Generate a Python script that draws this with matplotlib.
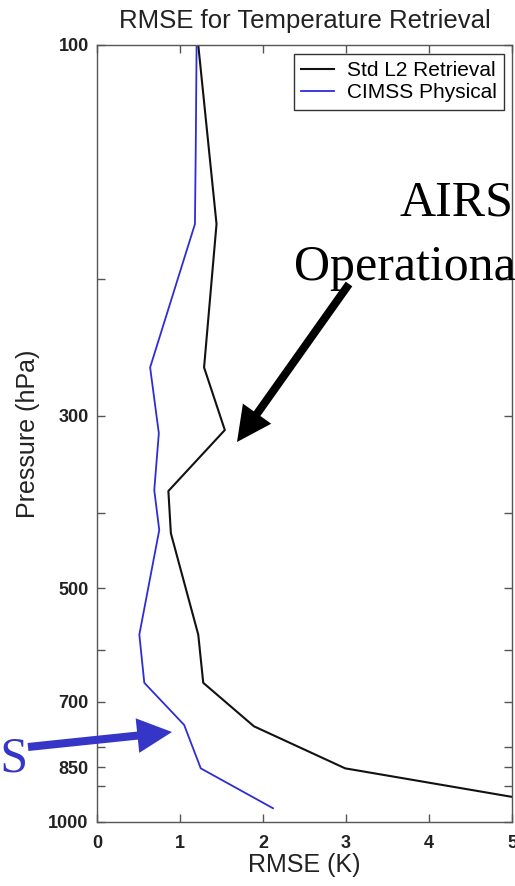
import matplotlib as mpl
import matplotlib.pyplot as plt
from matplotlib.ticker import NullFormatter

mpl.rcParams['font.family'] = ['Liberation Sans', 'DejaVu Sans']

# RMSE profiles (K) vs pressure (hPa)
p_std = [100, 170, 260, 313, 375, 425, 574, 662, 753, 853, 960]
rmse_std = [1.22, 1.44, 1.29, 1.54, 0.86, 0.89, 1.22, 1.28, 1.89, 2.99, 5.8]

p_cimss = [100, 135, 170, 260, 316, 374, 421, 574, 662, 750, 853, 960]
rmse_cimss = [1.20, 1.19, 1.18, 0.64, 0.745, 0.69, 0.75, 0.51, 0.57, 1.05, 1.25, 2.12]

y_major = [100, 300, 500, 700, 850, 1000]
y_minor = [200, 400, 600, 800, 900]
x_ticks = [0, 1, 2, 3, 4, 5]

W, H = 515, 886
fig = plt.figure(figsize=(W / 100, H / 100), dpi=100)
ax = fig.add_axes([97 / W, 1 - 822 / H, (512 - 97) / W, (822 - 45) / H])

blue = '#2d2dd6'
ax.plot(rmse_std, p_std, color='#111111', lw=1.5, label='Std L2 Retrieval')
ax.plot(rmse_cimss, p_cimss, color=blue, lw=1.3, label='CIMSS Physical')

ax.set_yscale('log')
ax.set_ylim(1000, 100)
ax.set_xlim(0, 5)

ax.set_yticks(y_major, [str(v) for v in y_major])
ax.set_yticks(y_minor, minor=True)
ax.yaxis.set_minor_formatter(NullFormatter())
ax.set_xticks(x_ticks, [str(v) for v in x_ticks])

ax.tick_params(which='both', direction='in', left=True, right=True,
               top=True, bottom=True, color='#555555', width=1, length=6)
ax.tick_params(axis='both', labelsize=13, labelcolor='#222222')
ax.tick_params(axis='y', pad=6)
ax.tick_params(axis='x', pad=9)
for lab in ax.get_xticklabels() + ax.get_yticklabels():
    lab.set_fontweight('bold')
for s in ax.spines.values():
    s.set_color('#555555')
    s.set_linewidth(1)

ax.set_title('RMSE for Temperature Retrieval', fontsize=18.5, pad=12, color='#222222')
ax.set_xlabel('RMSE (K)', fontsize=18, labelpad=1, color='#222222')
ax.set_ylabel('Pressure (hPa)', fontsize=18, labelpad=6, color='#222222')

leg = ax.legend(loc='upper right', bbox_to_anchor=(504 / W, 1 - 54 / H),
                bbox_transform=fig.transFigure, borderaxespad=0, fancybox=False,
                framealpha=1, edgecolor='#333333', fontsize=15,
                handlelength=1.6, handletextpad=0.6, borderpad=0.35,
                labelspacing=0.15)
leg.get_frame().set_linewidth(1)

# callouts
serif = ['Liberation Serif', 'DejaVu Serif']
fig.text(400 / W, 1 - 216 / H, 'AIRS', family=serif, fontsize=36, color='black')
fig.text(294 / W, 1 - 280 / H, 'Operational', family=serif, fontsize=36, color='black')
fig.text(28 / W, 1 - 772 / H, 'CIMSS', family=serif, fontsize=36, color='#3535c8', ha='right')

ax.annotate('', xy=(237, H - 442), xycoords='figure pixels',
            xytext=(349, H - 284), textcoords='figure pixels',
            arrowprops=dict(arrowstyle='simple,head_length=25,head_width=25,tail_width=5.8',
                            fc='black', ec='none', mutation_scale=1,
                            shrinkA=0, shrinkB=0))
ax.annotate('', xy=(172, H - 732), xycoords='figure pixels',
            xytext=(28, H - 747), textcoords='figure pixels',
            arrowprops=dict(arrowstyle='simple,head_length=25,head_width=25,tail_width=5.8',
                            fc='#3535c8', ec='none', mutation_scale=1,
                            shrinkA=0, shrinkB=0))

fig.savefig('out.png', dpi=100)
